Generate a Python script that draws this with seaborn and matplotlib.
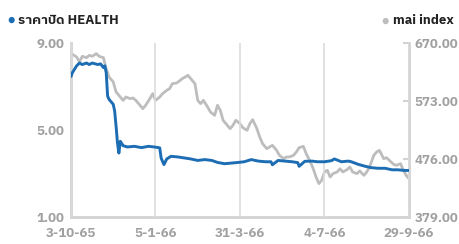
import matplotlib
matplotlib.use("Agg")
import matplotlib.pyplot as plt
import matplotlib.font_manager as fm
import pandas as pd
import seaborn as sns

# trading-day index (0 = 3-10-65 ... 240 = 29-9-66)
health_idx = [0, 1, 4, 6, 8, 11, 13, 15, 19, 21, 23, 24, 25, 26, 27, 30, 31, 32,
              33, 34, 35, 37, 40, 45, 50, 55, 59, 63, 64, 66, 68, 71, 76, 81, 85,
              90, 95, 100, 104, 109, 114, 119, 123, 128, 133, 138, 142, 143, 147,
              152, 157, 161, 162, 166, 171, 175, 180, 185, 187, 192, 197, 199, 204,
              209, 213, 218, 223, 228, 232, 237, 240]
health_close = [7.46, 7.64, 7.95, 8.08, 8.01, 8.08, 8.01, 8.08, 8.01, 8.04, 7.87,
                7.95, 7.64, 6.56, 6.41, 6.18, 5.87, 5.18, 4.41, 3.94, 4.48, 4.28,
                4.22, 4.25, 4.19, 4.25, 4.22, 4.18, 3.71, 3.41, 3.67, 3.79, 3.76,
                3.71, 3.67, 3.60, 3.64, 3.60, 3.51, 3.45, 3.48, 3.51, 3.54, 3.64,
                3.57, 3.54, 3.54, 3.40, 3.60, 3.57, 3.54, 3.50, 3.33, 3.56, 3.57,
                3.54, 3.54, 3.59, 3.67, 3.54, 3.57, 3.54, 3.42, 3.33, 3.27, 3.24,
                3.24, 3.17, 3.17, 3.14, 3.14]

mai_idx = [0, 1, 4, 6, 8, 11, 13, 15, 18, 20, 23, 25, 27, 30, 32, 34, 37, 39, 42,
           44, 46, 49, 51, 53, 56, 58, 60, 63, 65, 68, 70, 72, 75, 77, 79, 82, 83,
           85, 88, 90, 92, 94, 97, 99, 102, 104, 106, 108, 110, 113, 115, 117, 120,
           122, 125, 127, 129, 132, 134, 136, 139, 141, 143, 146, 148, 151, 153,
           155, 158, 160, 162, 165, 167, 170, 172, 174, 176, 178, 180, 182, 184,
           186, 189, 191, 193, 196, 198, 200, 203, 205, 208, 210, 212, 215, 217,
           219, 222, 224, 226, 229, 231, 234, 236, 238, 240]
mai_index = [647.7, 651.1, 646.6, 638.2, 647.7, 645.5, 649.4, 647.7, 652.2, 647.7,
             645.5, 627.1, 613.2, 604.8, 588.1, 582.5, 574.1, 579.7, 576.9, 578.1,
             574.1, 565.8, 560.2, 565.8, 576.9, 585.3, 574.1, 579.7, 585.3, 590.9,
             593.6, 602.0, 603.1, 606.5, 610.4, 614.3, 616.0, 610.4, 602.0, 574.1,
             568.6, 574.1, 563.0, 554.6, 549.0, 565.8, 557.4, 540.7, 535.1, 526.7,
             532.3, 540.7, 535.1, 528.4, 524.0, 535.1, 541.8, 526.7, 512.8, 501.7,
             493.3, 496.1, 498.9, 490.5, 482.1, 476.6, 479.4, 479.4, 482.1, 487.7,
             495.0, 497.2, 484.9, 471.0, 459.8, 445.9, 434.8, 440.3, 454.3, 457.1,
             445.9, 451.5, 454.3, 459.8, 454.3, 458.2, 462.6, 454.3, 451.5, 456.0,
             448.7, 454.3, 462.6, 482.1, 487.7, 490.5, 476.6, 478.2, 473.8, 467.1,
             465.4, 468.2, 457.1, 448.7, 443.1]

tick_pos = [0, 60, 120, 180, 240]
tick_labels = ["3-10-65", "5-1-66", "31-3-66", "4-7-66", "29-9-66"]
left_ticks = [1.0, 5.0, 9.0]
right_ticks = [379.0, 476.0, 573.0, 670.0]

BLUE = "#1c6db3"
GREY_LINE = "#bdbdbd"
AXIS = "#d3d3d3"
LABEL = "#a0a0a0"

sns.set_style("white")
thai = [f.name for f in fm.fontManager.ttflist if "Thai" in f.name]
plt.rcParams["font.family"] = thai[:1] + ["Lato", "DejaVu Sans"]

health = pd.DataFrame({"day": health_idx, "close": health_close})
mai = pd.DataFrame({"day": mai_idx, "value": mai_index})

fig = plt.figure(figsize=(4.6, 2.44), dpi=100)
ax = fig.add_axes([71 / 460, 1 - 217 / 244, (409 - 71) / 460, (217 - 43) / 244])
ax2 = ax.twinx()

sns.lineplot(data=mai, x="day", y="value", ax=ax2, color=GREY_LINE, lw=2.0)
sns.lineplot(data=health, x="day", y="close", ax=ax, color=BLUE, lw=2.1)
ax.set_zorder(ax2.get_zorder() + 1)
ax.patch.set_visible(False)

ax.set_xlim(0, 240)
ax.set_ylim(1, 9)
ax2.set_ylim(379, 670)
ax.set_xticks(tick_pos)
ax.set_xticklabels(tick_labels)
ax.set_yticks(left_ticks)
ax.set_yticklabels([f"{v:.2f}" for v in left_ticks])
ax2.set_yticks(right_ticks)
ax2.set_yticklabels([f"{v:.2f}" for v in right_ticks])
for a in (ax, ax2):
    a.set_xlabel("")
    a.set_ylabel("")

ax.grid(axis="x", color="#dcdcdc", lw=1.2)
ax.grid(axis="y", visible=False)
ax2.grid(False)
for a in (ax, ax2):
    for s in a.spines.values():
        s.set_visible(False)
for s in ("left", "right", "bottom"):
    ax2.spines[s].set_visible(True)
    ax2.spines[s].set_color(AXIS)
    ax2.spines[s].set_linewidth(2)

ax.tick_params(axis="y", length=0, pad=5, labelsize=9.5, labelcolor=LABEL)
ax.tick_params(axis="x", length=0, pad=7, labelsize=9.5, labelcolor=LABEL)
ax2.tick_params(axis="y", direction="in", length=4, width=1.5, color=AXIS,
                pad=4, labelsize=9.5, labelcolor=LABEL)
for lab in ax.get_xticklabels() + ax.get_yticklabels() + ax2.get_yticklabels():
    lab.set_fontweight("bold")

# legend entries
fig.text(11 / 460, 1 - 20 / 244, "\u25cf", color=BLUE, fontsize=9, ha="center", va="center")
fig.text(18 / 460, 1 - 20 / 244, "ราคาปิด HEALTH", color="#222222", fontsize=9.5,
         fontweight="bold", ha="left", va="center")
fig.text(385 / 460, 1 - 21 / 244, "\u25cf", color=GREY_LINE, fontsize=9, ha="center", va="center")
fig.text(393 / 460, 1 - 21 / 244, "mai index", color="#222222", fontsize=9.5,
         fontweight="bold", ha="left", va="center")

fig.savefig("out.png", dpi=100)
